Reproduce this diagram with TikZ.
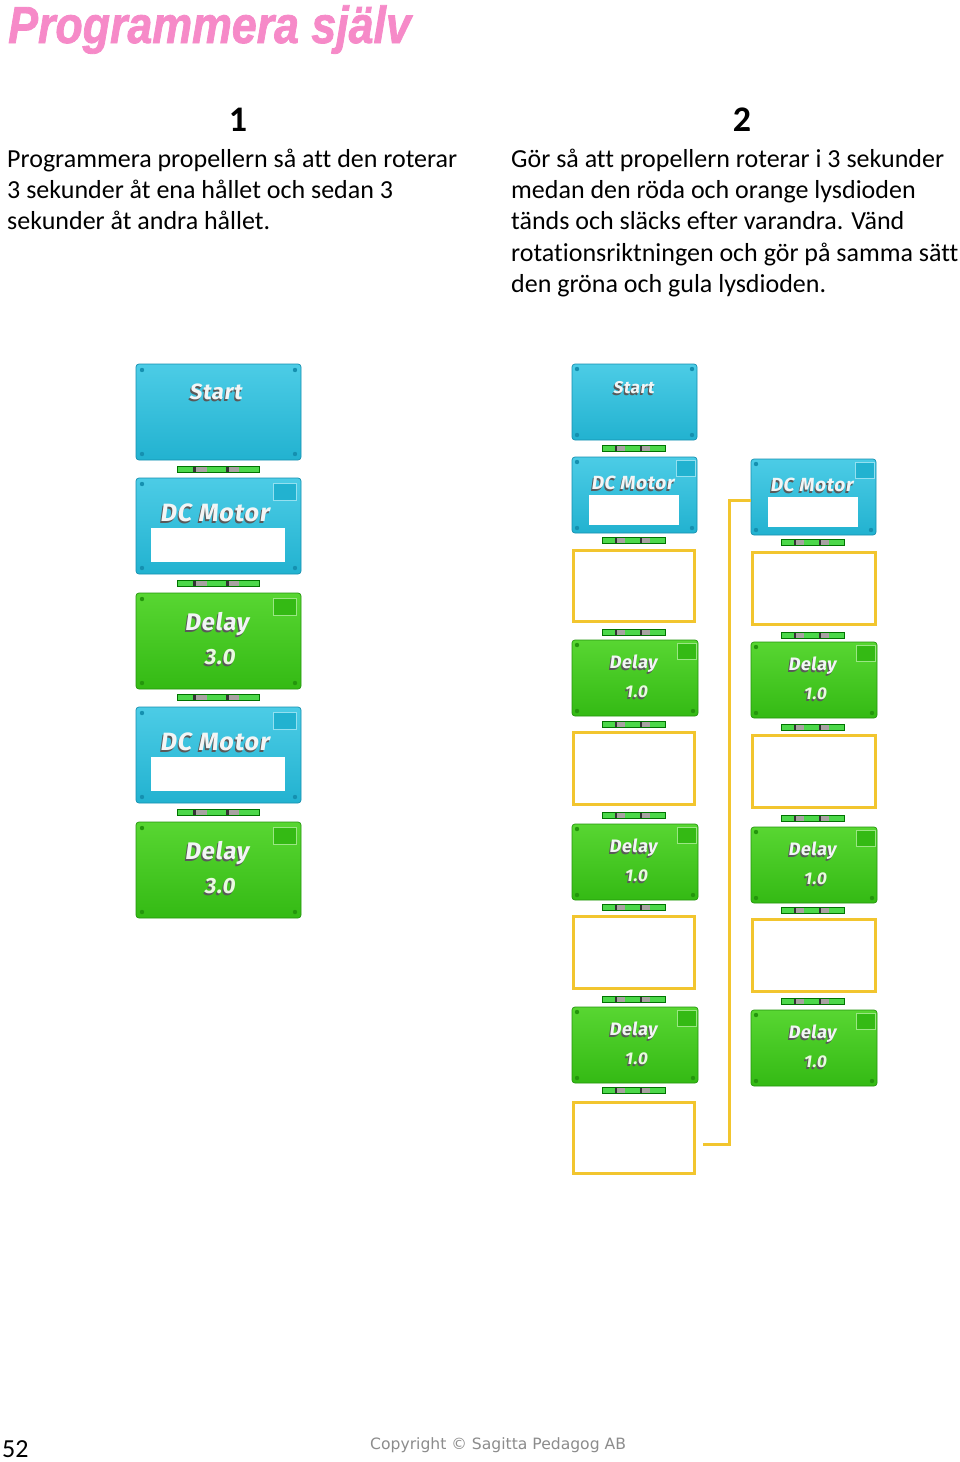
\documentclass[tikz,border=0pt]{standalone}
\usepackage{fontspec}
\setmainfont{Carlito}[Ligatures=CommonOff]
\newfontfamily\blkfont{Fira Sans}[FakeSlant=0.14, LetterSpace=3]
\newfontfamily\cpfont{DejaVu Sans}
\newfontfamily\titlefont{Liberation Sans}[FakeBold=1.6]
\usetikzlibrary{calc}
\definecolor{cyanA}{HTML}{4CCCE6}
\definecolor{cyanB}{HTML}{22B2D0}
\definecolor{cyanD}{HTML}{1590B0}
\definecolor{greenA}{HTML}{58D632}
\definecolor{greenB}{HTML}{34BA14}
\definecolor{greenD}{HTML}{24960C}
\definecolor{ylw}{HTML}{F2C52E}
\definecolor{pinkT}{HTML}{F68AC8}
\definecolor{cpgray}{HTML}{8C8C8C}
\definecolor{stripG}{HTML}{4CD84A}
\definecolor{stripR}{HTML}{A8A2A2}
\definecolor{lbltxt}{HTML}{F2F5F5}
\definecolor{valtxt}{HTML}{E9FADF}
\tikzset{
  blk/.style={rounded corners=3pt, anchor=north west, inner sep=0pt, outer sep=0pt, line width=0.7pt},
  cyanblk/.style={blk, top color=cyanA, bottom color=cyanB, draw=cyanD},
  greenblk/.style={blk, top color=greenA, bottom color=greenB, draw=greenD},
  yblk/.style={anchor=north west, draw=ylw, line width=3pt, fill=white, inner sep=0pt, outer sep=0pt},
  ylink/.style={draw=ylw, line width=3pt},
  txt/.style={anchor=base west, inner sep=0pt},
}
% label with shadow: name, block, dx, dy, size, text, colour
\newcommand\blab[7]{%
  \node[inner sep=0pt, text=black!65, font=\blkfont\bfseries\fontsize{#5}{#5}\selectfont] (#1s) at ($(#2.north)+(#3-1.2,#4+1.6)$) {#6};
  \node[inner sep=0pt, text=#7, font=\blkfont\bfseries\fontsize{#5}{#5}\selectfont] (#1) at ($(#2.north)+(#3,#4)$) {#6};}
% corner dots: block, inset, colour
\newcommand\bdots[3]{%
  \fill[#3] ($(#1.north west)+(#2,#2)$) circle (2.2pt);
  \fill[#3] ($(#1.south west)+(#2,-#2)$) circle (2.2pt);
  \fill[#3] ($(#1.south east)+(-#2,-#2)$) circle (2.2pt);}
\newcommand\trdot[3]{\fill[#3] ($(#1.north east)+(-#2,#2)$) circle (2.2pt);}
% top-right square: block, inset right, inset top, w, h, fill, draw
\newcommand\bsq[7]{\draw[fill=#6, draw=#7, line width=0.8pt] ($(#1.north east)+(-#2,#3)$) rectangle ++(-#4,#5);}
% white field: block, left, top, right inset, bottom
\newcommand\wfield[5]{\fill[white] ($(#1.north west)+(#2,#3)$) rectangle ($(#1.north east)+(-#4,#5)$);}
% connector strip: cx, top y, width, height
\newcommand\cstrip[4]{%
  \begin{scope}[shift={(#1-#3/2,#2)}]
    \fill[stripG] (0,0) rectangle (#3,#4);
    \fill[black!80] (0.20*#3,0) rectangle (0.23*#3,#4);
    \fill[stripR] (0.23*#3,0) rectangle (0.36*#3,#4);
    \fill[black!80] (0.60*#3,0) rectangle (0.63*#3,#4);
    \fill[stripR] (0.63*#3,0) rectangle (0.76*#3,#4);
    \draw[green!45!black, line width=0.4pt] (0,0) rectangle (#3,#4);
  \end{scope}}
% ---------- big blocks (column 1)
\newcommand\bigstart[3]{%
  \node[cyanblk, minimum width=165, minimum height=96] (#1) at (#2,#3) {};
  \bdots{#1}{6}{cyanD}\trdot{#1}{6}{cyanD}
  \blab{#1t}{#1}{-3}{28}{22}{Start}{lbltxt}}
\newcommand\bigmotor[3]{%
  \node[cyanblk, minimum width=165, minimum height=96] (#1) at (#2,#3) {};
  \bdots{#1}{6}{cyanD}
  \bsq{#1}{5}{5}{23}{17}{cyanB}{cyanA!60!white}
  \blab{#1t}{#1}{-4}{35}{25}{DC Motor}{lbltxt}
  \wfield{#1}{15}{50}{16}{84}}
\newcommand\bigdelay[3]{%
  \node[greenblk, minimum width=165, minimum height=96] (#1) at (#2,#3) {};
  \bdots{#1}{6}{greenD}
  \bsq{#1}{5}{5}{23}{17}{greenB}{greenA!60!white}
  \blab{#1t}{#1}{-2}{31}{24}{Delay}{lbltxt}
  \blab{#1v}{#1}{1}{64}{22}{3.0}{valtxt}}
% ---------- small blocks (columns 2, 3)
\newcommand\smstart[3]{%
  \node[cyanblk, minimum width=125, minimum height=76] (#1) at (#2,#3) {};
  \bdots{#1}{5}{cyanD}\trdot{#1}{5}{cyanD}
  \blab{#1t}{#1}{-1}{24}{17}{Start}{lbltxt}}
\newcommand\smmotor[3]{%
  \node[cyanblk, minimum width=125, minimum height=76] (#1) at (#2,#3) {};
  \bdots{#1}{5}{cyanD}
  \bsq{#1}{2}{3}{19}{16}{cyanB}{cyanA!60!white}
  \blab{#1t}{#1}{-2}{26}{19}{DC Motor}{lbltxt}
  \wfield{#1}{17}{38}{18}{68}}
\newcommand\smdelay[3]{%
  \node[greenblk, minimum width=126, minimum height=76] (#1) at (#2,#3) {};
  \bdots{#1}{5}{greenD}
  \bsq{#1}{2}{3}{19}{16}{greenB}{greenA!60!white}
  \blab{#1t}{#1}{-2}{24}{18}{Delay}{lbltxt}
  \blab{#1v}{#1}{1}{52}{17}{1.0}{valtxt}}
\begin{document}
\begin{tikzpicture}[x=1pt,y=-1pt]
\useasboundingbox (0,0) rectangle (960,1462);
\fill[white] (0,0) rectangle (960,1462);

% title
\node[txt, text=pinkT] (title) at (8,43) {\scalebox{0.86}[1]{\titlefont\bfseries\itshape\fontsize{52}{52}\selectfont Programmera själv}};

% headings
\node[anchor=base, inner sep=0pt, font=\bfseries\fontsize{36}{36}\selectfont] (n1) at (238,131) {1};
\node[anchor=base, inner sep=0pt, font=\bfseries\fontsize{36}{36}\selectfont] (n2) at (742,131) {2};

% body text
\begin{scope}[every node/.style={txt, font=\fontsize{26}{31}\selectfont}]
\node (a1) at (7,167) {Programmera propellern så att den roterar};
\node (a2) at (7,198) {3 sekunder åt ena hållet och sedan 3};
\node (a3) at (7,229) {sekunder åt andra hållet.};
\node (b1) at (511,167) {Gör så att propellern roterar i 3 sekunder};
\node (b2) at (511,198) {medan den röda och orange lysdioden};
\node (b3) at (511,229) {tänds och släcks efter varandra. Vänd};
\node (b4) at (511,261) {rotationsriktningen och gör på samma sätt};
\node (b5) at (511,292) {den gröna och gula lysdioden.};
\end{scope}

% column 1
\bigstart{S1}{136}{364}
\bigmotor{M1}{136}{478}
\bigdelay{D1}{136}{593}
\bigmotor{M2}{136}{707}
\bigdelay{D2}{136}{822}
\foreach \yy in {466,580,694,809} {\cstrip{218}{\yy}{82}{6}}

% column 2
\smstart{S2}{572}{364}
\smmotor{M3}{572}{457}
\node[yblk, minimum width=121, minimum height=71] (Y1) at (573.5,550.5) {};
\smdelay{D3}{572}{640}
\node[yblk, minimum width=121, minimum height=72] (Y2) at (573.5,732.5) {};
\smdelay{D4}{572}{824}
\node[yblk, minimum width=121, minimum height=72] (Y3) at (573.5,916.5) {};
\smdelay{D5}{572}{1007}
\node[yblk, minimum width=121, minimum height=71] (Y4) at (573.5,1102.5) {};
\foreach \yy in {445,537,629,721,812,904,996,1087} {\cstrip{634}{\yy}{63}{6}}

% column 3
\smmotor{M4}{751}{459}
\node[yblk, minimum width=123, minimum height=72] (Y5) at (752.5,552.5) {};
\smdelay{D6}{751}{642}
\node[yblk, minimum width=123, minimum height=72] (Y6) at (752.5,735.5) {};
\smdelay{D7}{751}{827}
\node[yblk, minimum width=123, minimum height=72] (Y7) at (752.5,919.5) {};
\smdelay{D8}{751}{1010}
\foreach \yy in {539,632,724,815,907,998} {\cstrip{813}{\yy}{63}{6}}

% yellow link
\coordinate (L0) at (703,1144);
\coordinate (L1) at (729,500);
\draw[ylink] (L0) -| (L1) -- (M4.west |- L1);

% footer
\node[txt, font=\fontsize{26}{26}\selectfont] (pg) at (2,1457) {52};
\node[txt, text=cpgray, font=\cpfont\fontsize{15.6}{15.6}\selectfont] (cp) at (370,1449) {Copyright © Sagitta Pedagog AB};
\end{tikzpicture}
\end{document}
